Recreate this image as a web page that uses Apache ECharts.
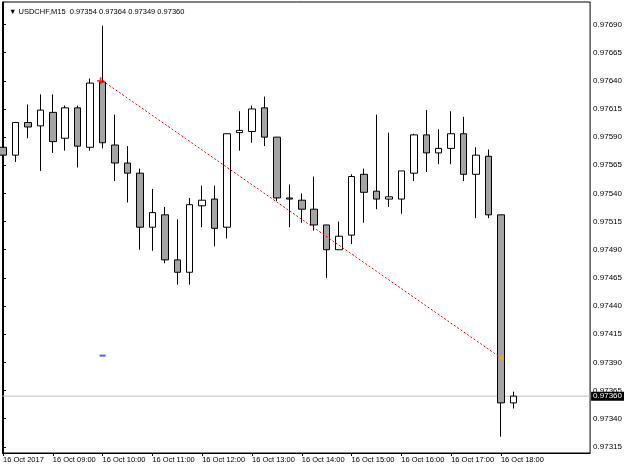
<!DOCTYPE html>
<html><head><meta charset="utf-8">
<script src="https://cdn.jsdelivr.net/npm/echarts@6/dist/echarts.min.js"></script>
<style>html,body{margin:0;padding:0;background:#fff}#c{width:625px;height:469px}</style>
</head><body><div id="c"></div>
<script>
const symbolName = 'USDCHF,M15';
const times = ['08:00','08:15','08:30','08:45','09:00','09:15','09:30','09:45','10:00','10:15','10:30','10:45',
  '11:00','11:15','11:30','11:45','12:00','12:15','12:30','12:45','13:00','13:15','13:30','13:45',
  '14:00','14:15','14:30','14:45','15:00','15:15','15:30','15:45','16:00','16:15','16:30','16:45',
  '17:00','17:15','17:30','17:45','18:00','18:15'];
const opens  = [0.97581,0.97574,0.97603,0.97600,0.97612,0.97589,0.97616,0.97581,0.97639,0.97583,0.97567,0.97558,
  0.97510,0.97521,0.97481,0.97470,0.97529,0.97535,0.97510,0.97594,0.97595,0.97616,0.97590,0.97536,
  0.97534,0.97526,0.97512,0.97490,0.97503,0.97557,0.97542,0.97535,0.97535,0.97558,0.97592,0.97576,
  0.97580,0.97593,0.97557,0.97573,0.97521,0.97354];
const highs  = [0.97586,0.97603,0.97619,0.97628,0.97628,0.97618,0.97618,0.97642,0.97689,0.97610,0.97582,0.97562,
  0.97544,0.97528,0.97517,0.97536,0.97547,0.97547,0.97593,0.97613,0.97618,0.97626,0.97590,0.97548,
  0.97540,0.97555,0.97512,0.97515,0.97557,0.97562,0.97610,0.97594,0.97560,0.97593,0.97614,0.97597,
  0.97613,0.97608,0.97581,0.97579,0.97521,0.97364];
const lows   = [0.97570,0.97568,0.97589,0.97560,0.97576,0.97578,0.97563,0.97578,0.97580,0.97551,0.97532,0.97490,
  0.97489,0.97478,0.97459,0.97459,0.97510,0.97493,0.97500,0.97578,0.97585,0.97582,0.97533,0.97510,
  0.97514,0.97507,0.97465,0.97490,0.97495,0.97514,0.97526,0.97528,0.97522,0.97551,0.97559,0.97566,
  0.97566,0.97551,0.97518,0.97518,0.97324,0.97349];
const closes = [0.97574,0.97603,0.97599,0.97614,0.97586,0.97616,0.97582,0.97638,0.97585,0.97567,0.97558,0.97510,
  0.97523,0.97481,0.97470,0.97530,0.97534,0.97509,0.97593,0.97596,0.97615,0.97590,0.97536,0.97535,
  0.97526,0.97512,0.97490,0.97502,0.97555,0.97541,0.97535,0.97537,0.97560,0.97592,0.97576,0.97580,
  0.97593,0.97557,0.97574,0.97521,0.97354,0.97360];
const xTickIndex  = [0,4,8,12,16,20,24,28,32,36,40];
const xTickLabels = ['16 Oct 2017','16 Oct 09:00','16 Oct 10:00','16 Oct 11:00','16 Oct 12:00','16 Oct 13:00',
  '16 Oct 14:00','16 Oct 15:00','16 Oct 16:00','16 Oct 17:00','16 Oct 18:00'];
const yTickLabels = ['0.97315','0.97340','0.97365','0.97390','0.97415','0.97440','0.97465','0.97490',
  '0.97515','0.97540','0.97565','0.97590','0.97615','0.97640','0.97665','0.97690'];
const bidPrice = 0.97360;
const tradeX = [8, 40];
const tradeY = [0.97640, 0.97394];
const stopX = [8];
const stopY = [0.97396];

const X_MIN = -0.04, X_MAX = 47.16, Y_MIN = 0.973095, Y_MAX = 0.9771;
const last = times.length - 1;
const fmt = v => v.toFixed(5);
const titleText = '▼ ' + symbolName + '  ' + [opens[last], highs[last], lows[last], closes[last]].map(fmt).join(' ');
const candleData = times.map((t, i) => [i, opens[i], closes[i], lows[i], highs[i]]);
const yTicks = yTickLabels.map(Number);
const font = 'Liberation Sans, Arial, sans-serif';

const chart = echarts.init(document.getElementById('c'), null, {renderer: 'canvas'});
chart.setOption({
  animation: false,
  backgroundColor: '#fff',
  title: {text: titleText, left: 4, top: 3, textStyle: {fontSize: 7.5, fontWeight: 'normal', color: '#000', fontFamily: font}},
  grid: {left: 2, right: 33, top: 2, bottom: 16, show: true, borderColor: '#000', borderWidth: 1, backgroundColor: '#fff'},
  xAxis: {
    type: 'value', min: X_MIN, max: X_MAX,
    axisLine: {show: true, lineStyle: {color: '#000'}},
    axisTick: {show: true, length: 3, customValues: xTickIndex, lineStyle: {color: '#000'}},
    axisLabel: {customValues: xTickIndex, formatter: v => xTickLabels[xTickIndex.indexOf(Math.round(v))] || '',
      align: 'left', margin: 3, fontSize: 7.5, color: '#000', fontFamily: font, showMinLabel: true, showMaxLabel: true},
    splitLine: {show: false}
  },
  yAxis: {
    type: 'value', position: 'right', min: Y_MIN, max: Y_MAX,
    axisLine: {show: true, lineStyle: {color: '#000'}},
    axisTick: {show: true, length: 3, customValues: yTicks, lineStyle: {color: '#000'}},
    axisLabel: {customValues: yTicks, formatter: v => fmt(v), margin: 3, fontSize: 8, color: '#000', fontFamily: font},
    splitLine: {show: false}
  },
  series: [
    {
      name: 'bid', type: 'line', data: [[X_MIN, bidPrice], [X_MAX, bidPrice]], symbol: 'none', silent: true,
      clip: false, z: 1,
      lineStyle: {color: '#c0c0c0', width: 1, type: 'solid'},
      endLabel: {show: true, distance: 1, formatter: () => fmt(bidPrice),
        backgroundColor: '#000', color: '#fff', fontSize: 8, fontFamily: font, padding: [1, 2, 0, 2]}
    },
    {
      type: 'line', data: tradeX.map((x, i) => [x, tradeY[i]]), symbol: 'none', silent: true,
      lineStyle: {color: '#ff0000', width: 1, type: [2, 2]}, z: 3
    },
    {
      type: 'candlestick', data: candleData, encode: {x: 0, y: [1, 2, 3, 4]},
      barWidth: 7, clip: true, z: 2,
      itemStyle: {color: '#ffffff', color0: '#a4a4a4', borderColor: '#000', borderColor0: '#000', borderWidth: 1}
    },
    {
      type: 'scatter', data: [[tradeX[0], tradeY[0]]],
      symbol: 'path://M0,3h8v2h-8z M3,0h2v8h-2z', symbolSize: 7, symbolOffset: [-2, 0],
      itemStyle: {color: '#ff0000'}, z: 4
    },
    {
      type: 'scatter', data: [[tradeX[1], tradeY[1]]],
      symbol: 'path://M0,4L7,0L7,8Z', symbolSize: [5, 7],
      itemStyle: {color: '#f0b400'}, z: 4
    },
    {
      type: 'scatter', data: stopX.map((x, i) => [x, stopY[i]]),
      symbol: 'rect', symbolSize: [6, 2],
      itemStyle: {color: '#3030ff'}, z: 4
    }
  ]
});
</script>
</body></html>
